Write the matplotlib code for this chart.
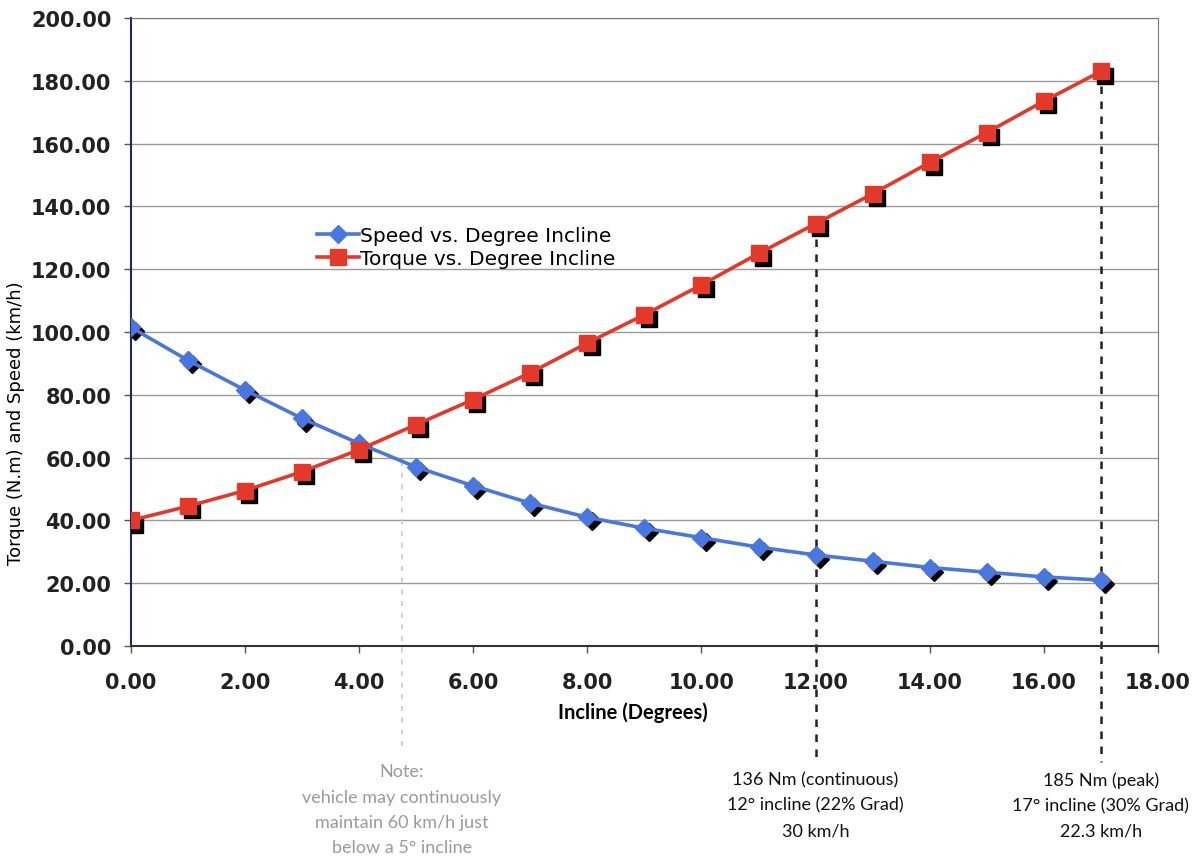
import matplotlib
matplotlib.use("Agg")
import matplotlib.pyplot as plt
import matplotlib.transforms as mtransforms

# Datos
incline = [0, 1, 2, 3, 4, 5, 6, 7, 8, 9, 10, 11, 12, 13, 14, 15, 16, 17]
speed = [101.5, 91.0, 81.5, 72.5, 64.5, 57.0, 51.0, 45.5, 41.0, 37.5,
         34.5, 31.5, 29.0, 27.0, 25.0, 23.5, 22.0, 21.0]
torque = [40.0, 44.5, 49.5, 55.5, 62.5, 70.5, 78.5, 87.0, 96.5, 105.5,
          115.0, 125.0, 134.5, 144.0, 154.0, 163.5, 173.5, 183.0]

xticks = [0, 2, 4, 6, 8, 10, 12, 14, 16, 18]
yticks = [0, 20, 40, 60, 80, 100, 120, 140, 160, 180, 200]

note_x = 4.75
note_text = "Note:\nvehicle may continuously\nmaintain 60 km/h just\nbelow a 5° incline"
marks = [12, 17]
mark_texts = ["136 Nm (continuous)\n12° incline (22% Grad)\n30 km/h",
              "185 Nm (peak)\n17° incline (30% Grad)\n22.3 km/h"]

blue = "#4a76df"
red = "#e2392a"

fig = plt.figure(figsize=(12, 8.62), dpi=100)
ax = fig.add_axes([0.109, 0.2494, 0.856, 0.7286])

ax.set_xlim(0, 18)
ax.set_ylim(0, 200)

# Lineas de rejilla
for y in yticks[1:]:
    ax.axhline(y, color="#9a9a9a", lw=1, zorder=1)

# Sombra de los marcadores (desplazada abajo a la derecha)
shadow = ax.transData + mtransforms.ScaledTranslation(3 / 72, -3 / 72, fig.dpi_scale_trans)
ax.plot(incline, speed, ls="none", marker="D", ms=9, color="black", transform=shadow, zorder=3)
ax.plot(incline, torque, ls="none", marker="s", ms=12, color="black", transform=shadow, zorder=3)

ax.plot(incline, speed, color=blue, lw=2.6, marker="D", ms=9, zorder=4,
        label="Speed vs. Degree Incline")
ax.plot(incline, torque, color=red, lw=2.6, marker="s", ms=12, zorder=4,
        label="Torque vs. Degree Incline")

# Lineas de referencia
ax.plot([note_x, note_x], [59, -33], color="#c8c8c8", lw=1.2, ls=(0, (3, 4)),
        clip_on=False, zorder=2)
for m in marks:
    ax.plot([m, m], [torque[m], -37], color="#222222", lw=1.8, ls=(0, (3, 3)),
            clip_on=False, zorder=2)

ax.text(note_x, -37.3, note_text, ha="center", va="top", color="#9a9a9a",
        fontsize=13, family="Lato", linespacing=1.72)
for m, t in zip(marks, mark_texts):
    ax.text(m, -39.8, t, ha="center", va="top", color="#111111",
            fontsize=13, family="Lato", linespacing=1.72)

ax.set_xticks(xticks)
ax.set_yticks(yticks)
ax.set_xticklabels(["%.2f" % v for v in xticks])
ax.set_yticklabels(["%.2f" % v for v in yticks])
ax.tick_params(axis="both", labelsize=15, length=5, width=1, color="#555555",
               labelcolor="#222222")
ax.tick_params(axis="x", pad=14)
ax.tick_params(axis="y", pad=9)
for lab in ax.get_xticklabels() + ax.get_yticklabels():
    lab.set_fontweight("bold")

ax.set_xlabel("Incline (Degrees)", fontsize=14.5, fontweight="bold", family="Lato")
ax.xaxis.set_label_coords(0.489, -0.088)
ax.set_ylabel("Torque (N.m) and Speed (km/h)", fontsize=13)
ax.yaxis.set_label_coords(-0.103, 0.357)

ax.spines["left"].set_color("#1f2a5a")
ax.spines["left"].set_linewidth(1.5)
ax.spines["bottom"].set_color("#333333")
ax.spines["bottom"].set_linewidth(1.5)
ax.spines["top"].set_color("#777777")
ax.spines["right"].set_color("#777777")

ax.legend(loc="upper left", bbox_to_anchor=(0.173, 0.682), frameon=False,
          fontsize=14.5, handlelength=2.1, handletextpad=0.05, labelspacing=0.2,
          borderaxespad=0)

fig.savefig("out.png", dpi=100, facecolor="white")
